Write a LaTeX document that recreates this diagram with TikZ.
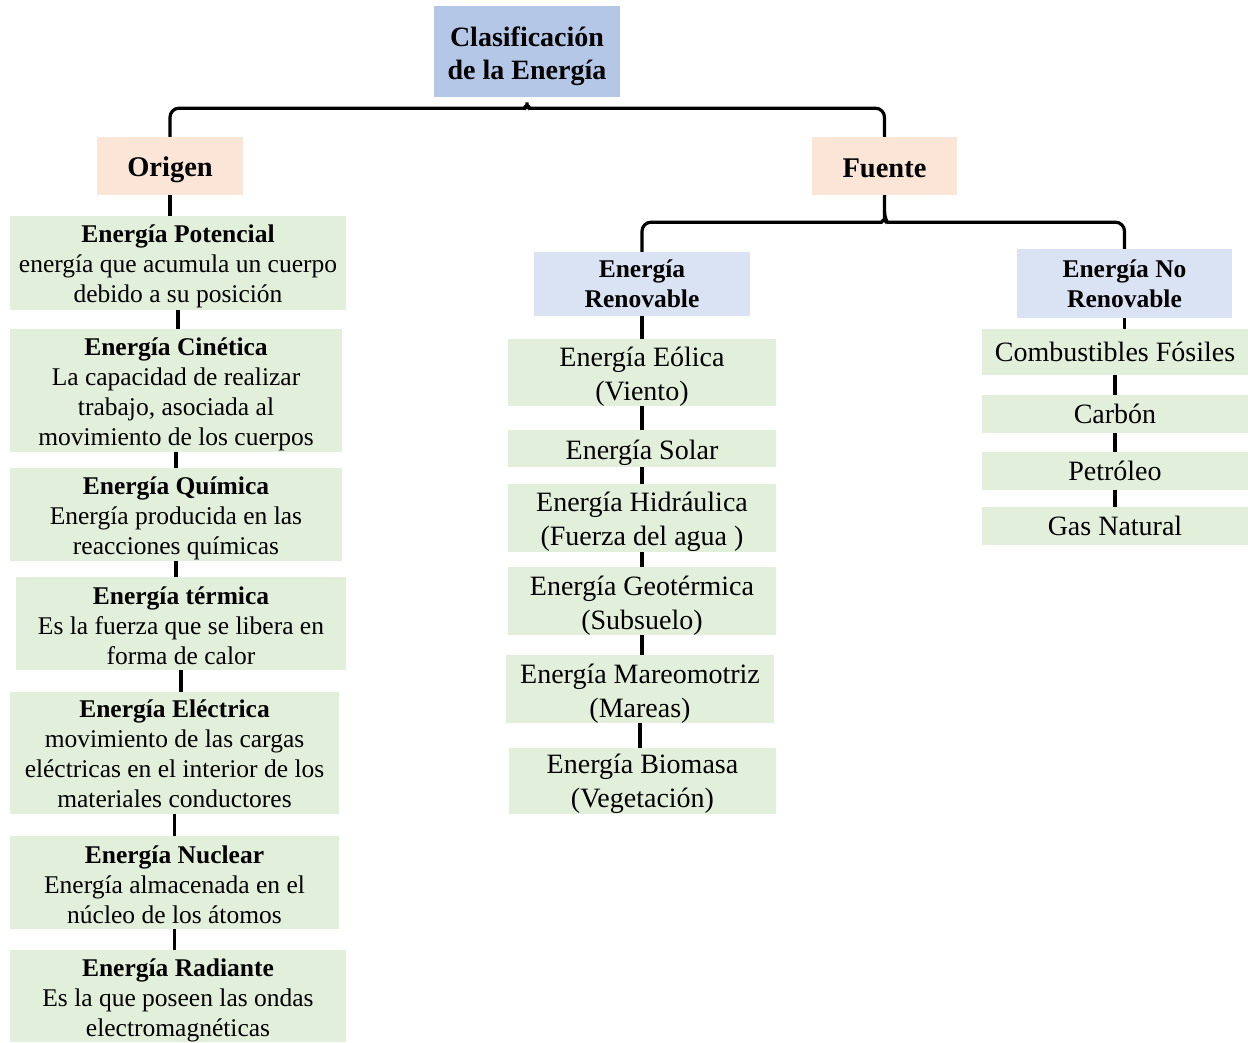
\documentclass[tikz,border=0pt]{standalone}
\usepackage{fontspec}
\setmainfont{Liberation Serif}
\usetikzlibrary{calc}
\definecolor{titleblue}{HTML}{B4C7E7}
\definecolor{peach}{HTML}{FBE5D6}
\definecolor{paleblue}{HTML}{DAE3F3}
\definecolor{palegreen}{HTML}{E2EFDA}
% a tall strut at the start of the first line pushes the text block down in its box
\def\liftamt{0pt}
\newcommand\lift[1][\liftamt]{\rule{0pt}{#1}}
\tikzset{
  box/.style={rectangle, inner sep=0pt, align=center, text=black},
  sz/.style 2 args={minimum width=#1pt, minimum height=#2pt},
  liftby/.style={execute at begin node={\def\liftamt{#1}}},
  titlebox/.style={box, fill=titleblue, font=\fontsize{28}{33}\selectfont\bfseries, liftby=29.5pt},
  groupbox/.style={box, fill=peach, font=\fontsize{28.5}{33}\selectfont\bfseries, liftby=27pt},
  kindbox/.style={box, fill=paleblue, font=\fontsize{25.5}{30}\selectfont\bfseries},
  descbox/.style={box, fill=palegreen, font=\fontsize{25.5}{30}\selectfont, liftby=24.5pt},
  itembox/.style={box, fill=palegreen, font=\fontsize{28}{34}\selectfont, liftby=28pt},
  listbox/.style={box, fill=palegreen, font=\fontsize{28}{34}\selectfont},
  conn/.style={draw=black, line width=3.2pt},
}
\begin{document}
\begin{tikzpicture}[x=1pt,y=-1pt]
\useasboundingbox (0,0) rectangle (1248,1042);

% top level
\node[titlebox, sz={186}{91}] (title) at (527,51.5) {\lift Clasificación\\de la Energía};
\node[groupbox, sz={146}{58}] (origen) at (170,166) {\lift Origen};
\node[groupbox, sz={145}{58}] (fuente) at (884.5,166) {\lift[23pt]Fuente};

% energy by origin
\node[descbox, sz={336}{94}] (pot) at (178,263) {\lift\textbf{Energía Potencial}\\energía que acumula un cuerpo\\debido a su posición};
\node[descbox, sz={332}{123}] (cin) at (176,390.5) {\lift\textbf{Energía Cinética}\\La capacidad de realizar\\trabajo, asociada al\\movimiento de los cuerpos};
\node[descbox, sz={332}{93}] (qui) at (176,514.5) {\lift\textbf{Energía Química}\\Energía producida en las\\reacciones químicas};
\node[descbox, sz={330}{93}] (ter) at (181,623.5) {\lift[22pt]\textbf{Energía térmica}\\Es la fuerza que se libera en\\forma de calor};
\node[descbox, sz={329}{122}] (ele) at (174.5,753) {\lift[20pt]\textbf{Energía Eléctrica}\\movimiento de las cargas\\eléctricas en el interior de los\\materiales conductores};
\node[descbox, sz={329}{93}] (nuc) at (174.5,882.5) {\lift[22pt]\textbf{Energía Nuclear}\\Energía almacenada en el\\núcleo de los átomos};
\node[descbox, sz={336}{92}] (rad) at (178,996) {\lift[26pt]\textbf{Energía Radiante}\\Es la que poseen las ondas\\electromagnéticas};

% energy by source
\node[kindbox, sz={216}{64}] (ren) at (642,284) {Energía\\Renovable};
\node[kindbox, sz={215}{69}] (noren) at (1124.5,283.5) {Energía No\\Renovable};

\node[itembox, sz={268}{67}] (eol) at (642,372.5) {\lift[27pt]Energía Eólica\\(Viento)};
\node[itembox, sz={268}{37}] (sol) at (642,448.5) {\lift Energía Solar};
\node[itembox, sz={268}{66}] (hid) at (642,518) {\lift Energía Hidráulica\\(Fuerza del agua )};
\node[itembox, sz={268}{66}] (geo) at (642,601) {\lift Energía Geotérmica\\(Subsuelo)};
\node[itembox, sz={268}{66}] (mar) at (640,689) {\lift Energía Mareomotriz\\(Mareas)};
\node[itembox, sz={267}{66}] (bio) at (642.5,781) {\lift[26pt]Energía Biomasa\\(Vegetación)};

\node[listbox, sz={266}{46}] (com) at (1115,352) {Combustibles Fósiles};
\node[listbox, sz={266}{38}] (car) at (1115,414) {Carbón};
\node[listbox, sz={266}{38}] (pet) at (1115,471) {Petróleo};
\node[listbox, sz={266}{38}] (gas) at (1115,526) {Gas Natural};

% braces
\draw[conn, rounded corners=9pt] (origen.north) |- ($(title.south)+(-12,11)$)
  .. controls ($(title.south)+(-3,11)$) and ($(title.south)+(0,7)$) .. (title.south)
  .. controls ($(title.south)+(0,7)$) and ($(title.south)+(3,11)$) .. ($(title.south)+(12,11)$) -| (fuente.north);
\draw[conn, rounded corners=9pt] (ren.north) |- ($(fuente.south)+(-12,27)$)
  .. controls ($(fuente.south)+(-3,27)$) and ($(fuente.south)+(0,23)$) .. ($(fuente.south)+(0,16)$) -- (fuente.south);
\draw[conn, rounded corners=9pt] (noren.north) |- ($(fuente.south)+(12,27)$)
  .. controls ($(fuente.south)+(3,27)$) and ($(fuente.south)+(0,23)$) .. ($(fuente.south)+(0,16)$);

% vertical links
\foreach \a/\b in {origen/pot, pot/cin, cin/qui, qui/ter, ter/ele, ele/nuc, nuc/rad,
                   ren/eol, eol/sol, sol/hid, hid/geo, geo/mar, mar/bio,
                   noren/com, com/car, car/pet, pet/gas}
  \draw[conn] (\a.south) -- (\a.south |- \b.north);
\end{tikzpicture}
\end{document}
